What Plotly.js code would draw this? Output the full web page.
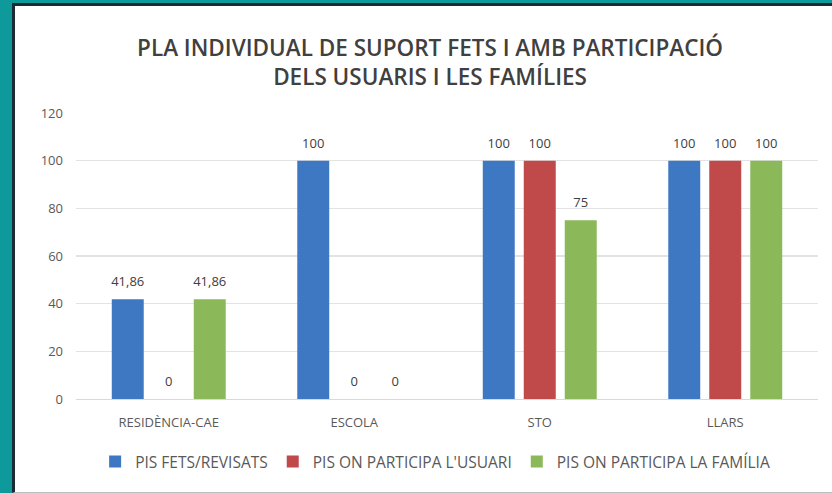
<!DOCTYPE html>
<html>
<head>
<meta charset="utf-8">
<script src="https://cdn.plot.ly/plotly-3.0.1.min.js"></script>
<style>
  html, body { margin: 0; padding: 0; background: #ffffff; overflow: hidden; }
  #frame { box-sizing: border-box; width: 832px; height: 493px; background: #ffffff;
           border-left: 12px solid #0e9a9a; border-top: 3px solid #0e9a9a; overflow: hidden; }
  #chart { box-sizing: border-box; width: 820px; height: 490px; background: #ffffff;
           border-left: 3px solid #1c2b33; border-top: 3px solid #1c2b33; border-bottom: 1px solid #b8c0c4; }
</style>
</head>
<body>
<div id="frame"><div id="chart"></div></div>
<script>
const categories = ["RESIDÈNCIA-CAE", "ESCOLA", "STO", "LLARS"];
const seriesNames = ["PIS FETS/REVISATS", "PIS ON PARTICIPA L'USUARI", "PIS ON PARTICIPA LA FAMÍLIA"];
const pisFets = [41.86, 100, 100, 100];
const pisUsuari = [0, 0, 100, 100];
const pisFamilia = [41.86, 0, 75, 100];
const colors = ["#3f78c2", "#c0494a", "#8bb95a"];

const fontFam = "'Open Sans', 'Noto Sans', sans-serif";
function fmt(v) { return String(v).replace('.', ','); }

const allSeries = [pisFets, pisUsuari, pisFamilia];
const barTraces = allSeries.map((vals, i) => ({
  type: 'bar',
  name: seriesNames[i],
  x: categories,
  y: vals,
  marker: { color: colors[i] },
  hoverinfo: 'x+y'
}));
// value labels, placed by the library's grouping so they sit over each bar
const labelTraces = allSeries.map((vals, i) => ({
  type: 'scatter',
  mode: 'markers+text',
  x: categories,
  y: vals,
  text: vals.map(fmt),
  textposition: 'top center',
  textfont: { family: fontFam, size: 13, color: '#404040' },
  marker: { size: 14, opacity: 0, color: colors[i] },
  cliponaxis: false,
  showlegend: false,
  hoverinfo: 'skip'
}));

const layout = {
  width: 817, height: 486,
  margin: { l: 61, r: 14, t: 107, b: 93 },
  paper_bgcolor: '#ffffff',
  plot_bgcolor: '#ffffff',
  barmode: 'group',
  bargap: 0.337,
  bargroupgap: 0.22,
  scattermode: 'group',
  scattergap: 0.337,
  title: {
    text: 'PLA INDIVIDUAL DE SUPORT FETS I AMB PARTICIPACIÓ<br>DELS USUARIS I LES FAMÍLIES',
    font: { family: fontFam, size: 22.5, weight: 600, color: '#404040' },
    x: 0.508, xref: 'container', xanchor: 'center',
    y: 0.897, yref: 'container', yanchor: 'middle'
  },
  xaxis: {
    type: 'category',
    tickfont: { family: fontFam, size: 13, color: '#595959' },
    showgrid: false,
    showline: true, linecolor: '#d9d9d9', linewidth: 1,
    ticks: '',
    ticklabelstandoff: 11
  },
  yaxis: {
    range: [0, 120],
    dtick: 20,
    tickfont: { family: fontFam, size: 13, color: '#595959' },
    showgrid: true, gridcolor: '#e3e3e3', gridwidth: 1.5,
    zeroline: false, showline: false, ticks: '',
    ticklabelstandoff: 12
  },
  showlegend: true,
  legend: {
    orientation: 'h',
    x: 0.484, xanchor: 'center',
    y: -0.22, yanchor: 'middle',
    font: { family: fontFam, size: 15.5, color: '#595959' },
    itemwidth: 30,
    traceorder: 'normal'
  }
};

Plotly.newPlot('chart', barTraces.concat(labelTraces), layout, { displayModeBar: false, staticPlot: true });
</script>
</body>
</html>
